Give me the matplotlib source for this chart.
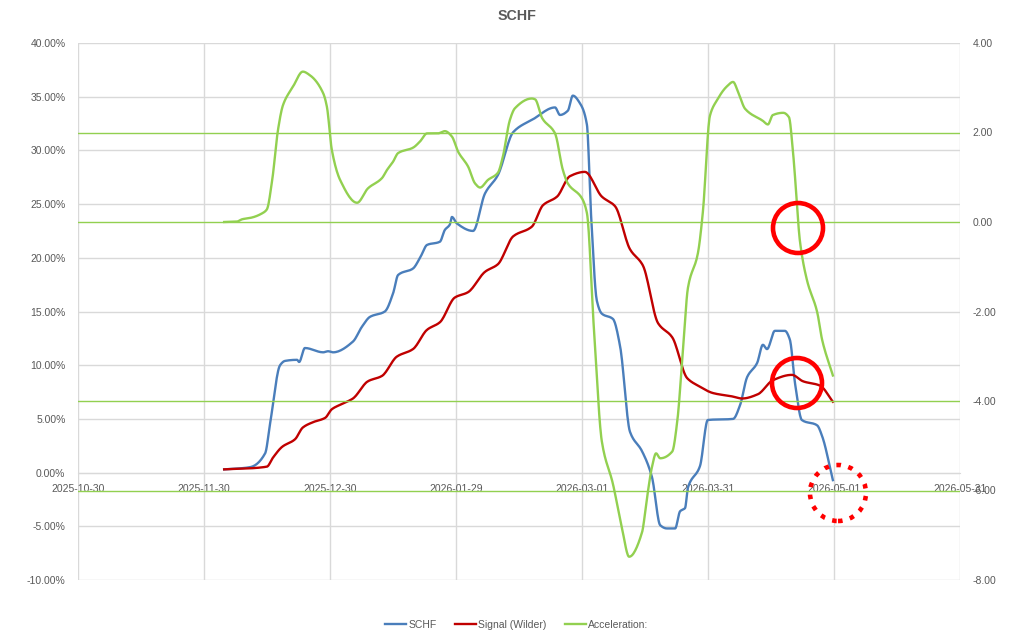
import numpy as np
import matplotlib
matplotlib.use("Agg")
import matplotlib.pyplot as plt
from matplotlib.patches import Ellipse
from matplotlib.lines import Line2D

plt.rcParams['font.family'] = ['Liberation Sans', 'DejaVu Sans']

# x values are days after 2025-10-30
tick_labels = ['2025-10-30', '2025-11-30', '2025-12-30', '2026-01-29',
               '2026-03-01', '2026-03-31', '2026-05-01', '2026-05-31']
x_max = 213

schf_days = [35.3, 41.5, 45.2, 46.4, 48.8, 50.0, 52.9, 53.4, 54.8, 59.2, 60.4, 61.6,
             66.4, 68.6, 70.5, 74.1, 76.1, 77.3, 80.9, 82.6, 84.3, 87.4, 88.6, 89.8,
             90.3, 91.5, 95.4, 98.3, 101.4, 105.1, 109.9, 115.2, 116.4, 118.3, 119.5,
             121.2, 122.9, 123.9, 125.3, 126.5, 129.2, 130.9, 133.3, 136.2, 138.6,
             140.6, 142.2, 144.2, 145.4, 146.6, 147.3, 150.2, 152.1, 158.2, 159.9,
             161.6, 164.0, 165.4, 166.4, 168.3, 170.7, 171.9, 173.2, 174.8, 178.5,
             179.7, 182.3]
schf_pct = [0.3, 0.5, 1.8, 4.6, 10.0, 10.4, 10.5, 10.3, 11.6, 11.2, 11.3, 11.2,
            12.2, 13.6, 14.5, 15.0, 16.7, 18.4, 19.0, 20.0, 21.2, 21.5, 22.6, 23.1,
            23.8, 23.2, 22.5, 26.0, 27.7, 31.7, 32.9, 34.0, 33.3, 33.7, 35.1,
            34.4, 32.4, 24.0, 16.0, 14.8, 14.3, 11.8, 3.8, 2.0, -0.4,
            -4.9, -5.2, -5.2, -3.6, -3.3, -1.4, 0.6, 4.9, 5.0, 6.3,
            8.9, 10.2, 11.9, 11.5, 13.2, 13.2, 12.4, 8.2, 4.9, 4.4,
            3.4, -0.7]

signal_days = [35.3, 45.6, 47.1, 49.3, 52.4, 54.3, 56.8, 59.7, 61.3, 63.8, 66.4, 70.0,
               73.4, 77.0, 80.9, 84.3, 87.4, 91.0, 94.2, 98.3, 101.4, 105.1, 109.6,
               112.3, 115.7, 118.8, 122.4, 126.5, 129.7, 133.3, 136.4, 140.1, 143.5,
               147.1, 149.7, 153.4, 157.9, 160.4, 164.2, 167.8, 172.4, 175.1, 179.2,
               182.3]
signal_pct = [0.3, 0.55, 1.4, 2.4, 3.1, 4.2, 4.7, 5.1, 5.9, 6.4, 6.9, 8.5,
              9.0, 10.8, 11.5, 13.3, 14.0, 16.3, 16.8, 18.7, 19.4, 22.0, 22.9,
              24.9, 25.7, 27.6, 28.0, 25.7, 24.8, 20.8, 19.3, 13.9, 12.6,
              8.8, 8.1, 7.4, 7.1, 6.9, 7.3, 8.6, 9.1, 8.5, 8.1,
              6.6]

accel_days = [35.3, 38.4, 39.6, 42.0, 44.4, 45.6, 46.9, 48.3, 49.5, 51.9, 54.3, 56.0,
              59.2, 60.1, 61.3, 63.3, 67.4, 70.0, 73.4, 74.6, 76.1, 77.3, 80.9, 82.6,
              84.3, 86.9, 88.6, 90.3, 91.8, 94.2, 95.9, 97.1, 99.0, 101.4, 102.6,
              104.3, 105.5, 109.6, 110.4, 112.1, 115.2, 117.1, 118.3, 121.7, 122.9,
              124.6, 126.5, 129.2, 131.4, 133.1, 136.2, 137.4, 138.6, 139.6, 140.6,
              143.5, 144.7, 146.1, 147.3, 149.7, 150.9, 152.6, 154.3, 156.7, 158.2,
              159.4, 161.1, 165.4, 166.6, 167.8, 170.3, 171.7, 172.7, 174.4, 176.1,
              178.5, 179.7, 182.3]
accel_val = [0.0, 0.01, 0.06, 0.10, 0.19, 0.28, 0.94, 2.06, 2.61, 3.02, 3.36, 3.28,
             2.88, 2.58, 1.61, 0.94, 0.43, 0.75, 0.98, 1.16, 1.35, 1.54, 1.66, 1.80,
             1.98, 1.98, 2.03, 1.91, 1.57, 1.24, 0.86, 0.77, 0.94, 1.10, 1.46,
             2.28, 2.54, 2.76, 2.74, 2.32, 1.98, 1.16, 0.86, 0.53, 0.20,
             -2.4, -4.9, -5.86, -6.86, -7.48, -6.94, -6.17, -5.48, -5.17, -5.28,
             -5.13, -4.47, -2.86, -1.47, -0.70, 0.22, 2.37, 2.72, 3.03, 3.13,
             2.91, 2.53, 2.26, 2.18, 2.39, 2.44, 2.34, 1.53, -0.47, -1.32,
             -2.01, -2.63, -3.43]

ref_levels = [2, 0, -4, -6]


def pchip(x, y, n=15):
    # monotone cubic through the points, stands in for Excel's smoothed line
    x = np.asarray(x, float)
    y = np.asarray(y, float)
    h = np.diff(x)
    d = np.diff(y) / h
    m = np.zeros(len(x))
    m[0], m[-1] = d[0], d[-1]
    for k in range(1, len(x) - 1):
        if d[k - 1] * d[k] <= 0:
            m[k] = 0
        else:
            w1 = 2 * h[k] + h[k - 1]
            w2 = h[k] + 2 * h[k - 1]
            m[k] = (w1 + w2) / (w1 / d[k - 1] + w2 / d[k])
    xs, ys = [], []
    for k in range(len(x) - 1):
        t = np.linspace(0, 1, n, endpoint=False)
        h00 = 2 * t**3 - 3 * t**2 + 1
        h10 = t**3 - 2 * t**2 + t
        h01 = -2 * t**3 + 3 * t**2
        h11 = t**3 - t**2
        xs.append(x[k] + t * h[k])
        ys.append(h00 * y[k] + h10 * h[k] * m[k] + h01 * y[k + 1] + h11 * h[k] * m[k + 1])
    xs.append([x[-1]])
    ys.append([y[-1]])
    return np.concatenate(xs), np.concatenate(ys)


blue = '#4a7ebb'
red = '#c00000'
green = '#92d050'
grid_c = '#d9d9d9'
txt_c = '#595959'
fs = 7.5

fig = plt.figure(figsize=(10.24, 6.38), dpi=100)
ax = fig.add_axes([78 / 1024, 1 - 580 / 638, 882 / 1024, 537 / 638])
ax2 = ax.twinx()

ax.set_xlim(0, x_max)
ax.set_ylim(-10, 40)
ax2.set_ylim(-8, 4)

ax.set_xticks(np.linspace(0, x_max, len(tick_labels)))
ax.set_xticklabels(tick_labels)
ax.set_yticks(np.arange(-10, 41, 5))
ax.set_yticklabels(['%.2f%%' % v for v in np.arange(-10, 41, 5)])
ax2.set_yticks(np.arange(-8, 5, 2))
ax2.set_yticklabels(['%.2f' % v for v in np.arange(-8, 5, 2)])

ax.grid(True, color=grid_c, lw=1.0)
ax.set_axisbelow(True)
for s in ['top', 'right', 'left']:
    ax.spines[s].set_visible(False)
    ax2.spines[s].set_visible(False)
ax2.spines['bottom'].set_visible(False)
ax.spines['bottom'].set_position(('data', 0))
ax.spines['bottom'].set_color(grid_c)
ax.tick_params(axis='x', length=0, pad=8, labelsize=fs, labelcolor=txt_c)
ax.tick_params(axis='y', length=0, pad=9, labelsize=fs, labelcolor=txt_c)
ax2.tick_params(axis='y', length=0, pad=9, labelsize=fs, labelcolor=txt_c)

for lv in ref_levels:
    ax2.axhline(lv, color=green, lw=1.0, zorder=1)

bx, by = pchip(schf_days, schf_pct)
rx, ry = pchip(signal_days, signal_pct)
gx, gy = pchip(accel_days, accel_val)
ax.plot(bx, by, color=blue, lw=1.7, zorder=3)
ax.plot(rx, ry, color=red, lw=1.7, zorder=3)
ax2.plot(gx, gy, color=green, lw=1.7, zorder=3)

fig.text(517 / 1024, 1 - 16 / 638, 'SCHF', ha='center', va='center',
         fontsize=10.3, fontweight='bold', color=txt_c)

handles = [Line2D([], [], color=blue, lw=1.7),
           Line2D([], [], color=red, lw=1.7),
           Line2D([], [], color=green, lw=1.7)]
fig.legend(handles, ['SCHF', 'Signal (Wilder)', 'Acceleration:'],
           loc='center', bbox_to_anchor=(517 / 1024, 1 - 625 / 638), ncol=3,
           frameon=False, fontsize=fs, labelcolor=txt_c, handlelength=2.0,
           handletextpad=0.2, columnspacing=1.8)

# red circle markups
for cx, cy, r, ls in [(798, 228, 25, '-'), (797, 383, 25, '-'), (838, 493, 28, ':')]:
    e = Ellipse((cx / 1024, 1 - cy / 638), 2 * r / 1024, 2 * r / 638,
                transform=fig.transFigure, fill=False, edgecolor='#ff0000',
                lw=3.3, linestyle=ls, zorder=10)
    fig.add_artist(e)

fig.savefig('out.png', dpi=100)
